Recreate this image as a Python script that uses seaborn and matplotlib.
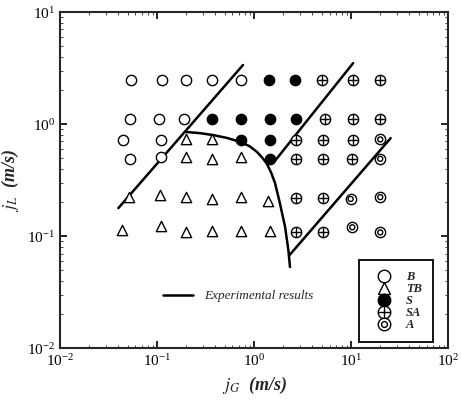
import numpy as np
import pandas as pd
import matplotlib
matplotlib.use("Agg")
import matplotlib.pyplot as plt
import seaborn as sns
from matplotlib.lines import Line2D

# flow regime observations (jG, jL) in m/s
B_x = [0.054, 0.112, 0.20, 0.37, 0.73, 0.053, 0.105, 0.19, 0.045, 0.11, 0.053, 0.11]
B_y = [2.47, 2.47, 2.47, 2.47, 2.47, 1.11, 1.11, 1.11, 0.72, 0.72, 0.49, 0.51]

TB_x = [0.20, 0.37, 0.20, 0.37, 0.73, 0.052, 0.107, 0.20, 0.37, 0.73, 1.40,
        0.044, 0.11, 0.20, 0.37, 0.73, 1.45]
TB_y = [0.73, 0.73, 0.51, 0.49, 0.51, 0.224, 0.232, 0.223, 0.213, 0.223, 0.206,
        0.113, 0.123, 0.108, 0.112, 0.112, 0.112]

S_x = [1.43, 2.63, 0.37, 0.73, 1.45, 2.7, 0.73, 1.45, 1.45]
S_y = [2.47, 2.47, 1.11, 1.11, 1.11, 1.11, 0.72, 0.72, 0.49]

SA_x = [5.0, 10.4, 20.0, 5.4, 10.4, 20.0, 2.7, 5.2, 10.4, 2.7, 5.1, 10.2, 2.7, 5.1, 2.7, 5.1]
SA_y = [2.47, 2.47, 2.47, 1.11, 1.11, 1.11, 0.72, 0.72, 0.72, 0.49, 0.49, 0.49,
        0.22, 0.22, 0.108, 0.108]

A_x = [20.0, 20.0, 9.9, 20.0, 10.3, 20.0]
A_y = [0.73, 0.49, 0.215, 0.223, 0.12, 0.108]

# experimental transition boundaries
line1_x = [0.040, 0.77]
line1_y = [0.178, 3.37]
line2_x = [1.61, 10.5]
line2_y = [0.46, 3.5]
line3_x = [2.33, 25.6]
line3_y = [0.068, 0.75]
curve_x = [0.195, 0.28, 0.38, 0.52, 0.72, 0.90, 1.07, 1.22, 1.35, 1.50, 1.65, 1.85, 2.09, 2.26, 2.35]
curve_y = [0.853, 0.83, 0.798, 0.755, 0.695, 0.635, 0.566, 0.50, 0.446, 0.37, 0.296, 0.196, 0.121, 0.075, 0.053]

sns.set_theme(style="ticks")
plt.rcParams['font.family'] = ['Liberation Serif', 'DejaVu Serif']
plt.rcParams['mathtext.fontset'] = 'stix'

fig = plt.figure(figsize=(4.61, 4.03), dpi=100)
ax = fig.add_axes([0.130, 0.136, 0.842, 0.834])

ms = 55
kw = dict(ax=ax, s=ms, linewidth=1.0, edgecolor='black', zorder=3, legend=False)
sns.scatterplot(x=B_x, y=B_y, marker='o', facecolor='white', **kw)
sns.scatterplot(x=TB_x, y=TB_y, marker='^', facecolor='white', **kw)
sns.scatterplot(x=S_x, y=S_y, marker='o', facecolor='black', **kw)
sns.scatterplot(x=SA_x, y=SA_y, marker='o', facecolor='white', **kw)
sns.scatterplot(x=SA_x, y=SA_y, marker='+', color='black', ax=ax, s=ms, linewidth=1.0, zorder=4, legend=False)
sns.scatterplot(x=A_x, y=A_y, marker='o', facecolor='white', **kw)
sns.scatterplot(x=A_x, y=A_y, marker='o', facecolor='none', ax=ax, s=13, linewidth=1.0,
                edgecolor='black', zorder=4, legend=False)

lw = 1.8
for xs, ys in [(line1_x, line1_y), (line2_x, line2_y), (line3_x, line3_y), (curve_x, curve_y)]:
    sns.lineplot(x=xs, y=ys, ax=ax, color='black', linewidth=lw, sort=False,
                 estimator=None, zorder=2)

ax.set_xscale('log')
ax.set_yscale('log')
ax.set_xlim(0.01, 100)
ax.set_ylim(0.01, 10)
for s in ax.spines.values():
    s.set_linewidth(1.5)
    s.set_visible(True)
ax.tick_params(which='major', direction='in', length=5, width=1.2, labelsize=11,
               top=True, right=True, colors='black')
ax.tick_params(which='minor', direction='in', length=2, width=0.6, top=True, right=True)
ax.set_xlabel(r'$j_G$  (m/s)', fontsize=13, fontweight='bold', fontstyle='italic')
ax.set_ylabel(r'$j_L$  (m/s)', fontsize=13, fontweight='bold', fontstyle='italic')

# legend for line
exp_handle = [Line2D([], [], color='black', linewidth=lw)]
leg1 = ax.legend(exp_handle, ['Experimental results'], loc='center left',
                 bbox_to_anchor=(0.235, 0.155), frameon=False, handlelength=2.3,
                 prop={'family': 'Liberation Serif', 'style': 'italic', 'size': 9.5})
ax.add_artist(leg1)

mk = dict(linestyle='none', markeredgecolor='black', markersize=9, markeredgewidth=1.0)
h_B = Line2D([], [], marker='o', markerfacecolor='white', **mk)
h_TB = Line2D([], [], marker='^', markerfacecolor='white', **mk)
h_S = Line2D([], [], marker='o', markerfacecolor='black', **mk)
h_SA = (Line2D([], [], marker='o', markerfacecolor='white', **mk),
        Line2D([], [], marker='+', color='black', linestyle='none', markersize=9, markeredgewidth=1.0))
h_A = (Line2D([], [], marker='o', markerfacecolor='white', **mk),
       Line2D([], [], marker='o', markerfacecolor='none', linestyle='none', markeredgecolor='black',
              markersize=4.2, markeredgewidth=1.0))
leg2 = ax.legend([h_B, h_TB, h_S, h_SA, h_A], ['B', 'TB', 'S', 'SA', 'A'],
                 loc='lower right', bbox_to_anchor=(0.961, 0.018), fancybox=False,
                 edgecolor='black', framealpha=1, handlelength=2.2, handletextpad=0.65,
                 labelspacing=0.0, borderpad=0.9, borderaxespad=0,
                 prop={'family': 'Liberation Serif', 'style': 'italic', 'weight': 'bold', 'size': 9})
leg2.get_frame().set_linewidth(1.3)

fig.savefig('out.png', dpi=100)
